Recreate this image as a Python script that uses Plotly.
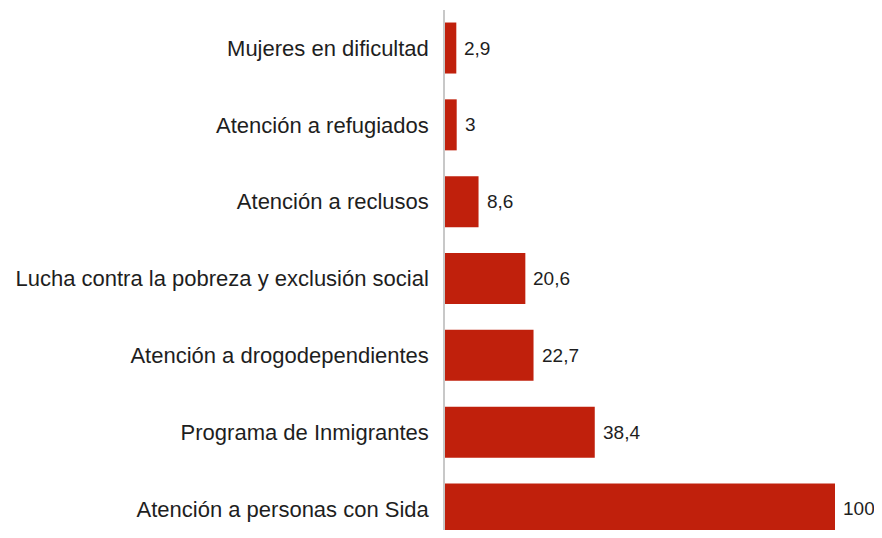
import plotly.graph_objects as go

categories = [
    "Mujeres en dificultad",
    "Atención a refugiados",
    "Atención a reclusos",
    "Lucha contra la pobreza y exclusión social",
    "Atención a drogodependientes",
    "Programa de Inmigrantes",
    "Atención a personas con Sida",
]
values = [2.9, 3, 8.6, 20.6, 22.7, 38.4, 100]
value_labels = ["2,9", "3", "8,6", "20,6", "22,7", "38,4", "100"]

FONT = "Liberation Sans, Arial, Helvetica, sans-serif"
TXT = "#1e1e1e"

fig = go.Figure(go.Bar(
    y=list(range(len(categories))),
    x=values,
    orientation="h",
    marker=dict(color="#C0200C", line=dict(width=0)),
    hoverinfo="skip",
))

for v, lab, i in zip(values, value_labels, range(len(categories))):
    fig.add_annotation(
        x=v, y=i, text=lab, showarrow=False,
        xanchor="left", yanchor="middle", xshift=6,
        font=dict(family=FONT, size=19, color=TXT),
    )

# page body has an 8px margin, so the figure is sized/offset to compensate
fig.update_layout(
    width=866, height=522,
    margin=dict(l=437, r=0, t=2, b=0, autoexpand=False),
    paper_bgcolor="white", plot_bgcolor="white",
    font=dict(family=FONT, size=22, color=TXT),
    bargap=0.336,
    showlegend=False,
)
fig.update_yaxes(
    tickmode="array",
    tickvals=list(range(len(categories))),
    ticktext=categories,
    range=[6.274, -0.495],
    automargin=False,
    showline=True, linecolor="#C8C8C8", linewidth=1.5,
    ticks="", ticklabelstandoff=10,
    showgrid=False, zeroline=False,
)
fig.update_xaxes(
    range=[0, 110],
    automargin=False,
    showgrid=False, zeroline=False, showticklabels=False, showline=False,
)

fig.write_html("out.html")
